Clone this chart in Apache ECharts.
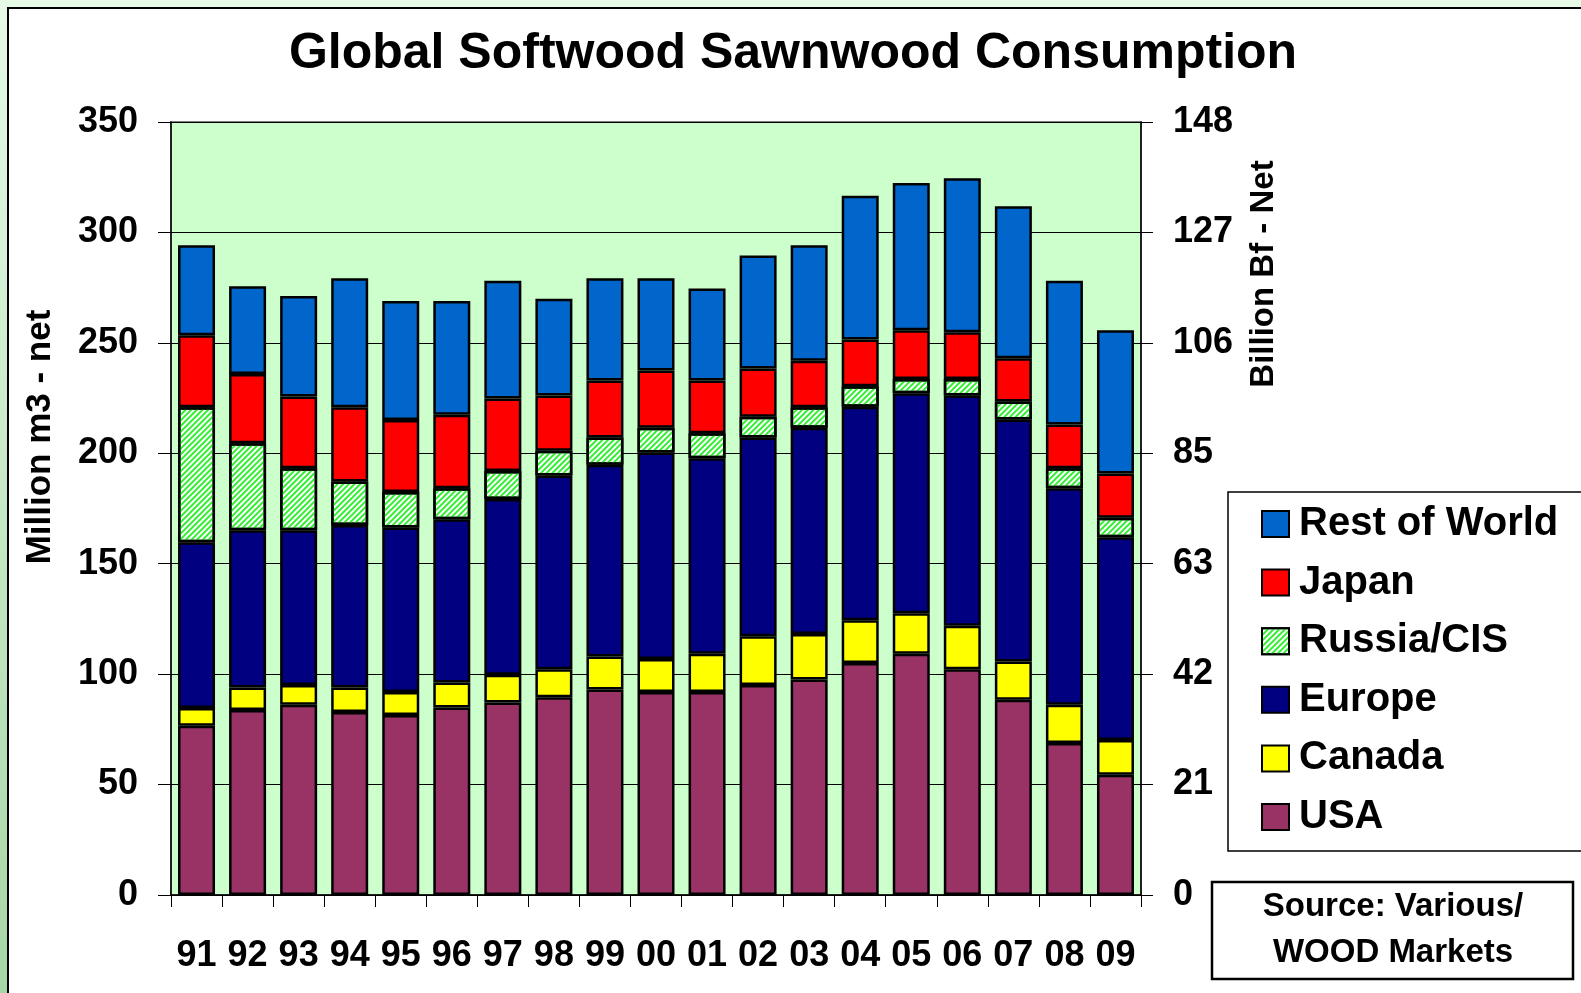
<!DOCTYPE html>
<html>
<head>
<meta charset="utf-8">
<title>Global Softwood Sawnwood Consumption</title>
<script src="https://cdn.jsdelivr.net/npm/echarts@6/dist/echarts.min.js"></script>
<style>
  html, body { margin: 0; padding: 0; background: #ffffff; }
  #chart { width: 1581px; height: 993px; }
</style>
</head>
<body>
<div id="chart"></div>
<script>
// years (19xx / 20xx)
const years = ["91", "92", "93", "94", "95", "96", "97", "98", "99", "00",
  "01", "02", "03", "04", "05", "06", "07", "08", "09"];

// million m3 - net
const usa = [76.6, 83.8, 86.1, 82.9, 81.5, 84.9, 87.2, 89.5, 93.0, 91.9,
  91.9, 95.1, 97.6, 105.0, 109.2, 102.2, 88.4, 68.8, 54.5];
const canada = [8.1, 10.1, 9.0, 11.0, 10.4, 11.3, 12.5, 12.7, 15.0, 15.0,
  17.3, 22.1, 20.6, 19.4, 18.4, 19.7, 17.3, 17.3, 15.7];
const europe = [75.0, 71.3, 70.1, 73.6, 74.5, 73.9, 79.6, 87.7, 86.8, 93.4,
  88.6, 90.0, 93.4, 96.7, 99.6, 104.3, 109.6, 98.1, 91.8];
const russia = [61.2, 39.3, 28.0, 19.7, 16.1, 14.1, 12.7, 11.3, 12.4, 11.3,
  11.3, 9.3, 9.3, 9.2, 6.4, 7.4, 8.1, 9.0, 8.8];
const japan = [32.5, 31.4, 32.5, 33.7, 32.6, 33.2, 32.8, 25.0, 25.7, 25.9,
  23.8, 21.9, 21.0, 21.2, 22.1, 21.2, 19.6, 19.8, 20.1];
const restOfWorld = [40.8, 39.7, 45.5, 58.3, 53.8, 51.5, 53.3, 43.8, 46.3, 41.7,
  41.7, 51.2, 52.3, 65.1, 66.7, 69.7, 68.8, 65.1, 64.8];

// axis scales
const leftMax = 350;
const leftStep = 50;
const rightMax = 148; // billion board feet
const rightSteps = 7;

const FONT = "'Liberation Sans', Arial, sans-serif";

const myChart = echarts.init(document.getElementById("chart"), null, { renderer: "canvas" });

function bar(name, data, color, extra) {
  return Object.assign({
    name: name,
    type: "bar",
    stack: "total",
    barWidth: 37,
    data: data,
    itemStyle: { color: color, borderColor: "#000000", borderWidth: 2.5 }
  }, extra || {});
}

const series = [
  bar("USA", usa, "#993366"),
  bar("Canada", canada, "#ffff00"),
  bar("Europe", europe, "#000080"),
  {
    name: "Russia/CIS",
    type: "bar",
    stack: "total",
    barWidth: 37,
    data: russia,
    itemStyle: {
      color: "#ffffff",
      borderColor: "#000000",
      borderWidth: 2.5,
      decal: {
        symbol: "rect",
        color: "#33ee33",
        dashArrayX: [1, 0],
        dashArrayY: [2, 2],
        rotation: -Math.PI / 4
      }
    }
  },
  bar("Japan", japan, "#ff0000"),
  bar("Rest of World", restOfWorld, "#0066cc")
];

const option = {
  animation: false,
  backgroundColor: "#ffffff",
  title: {
    text: "Global Softwood Sawnwood Consumption",
    left: 788,
    textAlign: "center",
    top: 24,
    textStyle: { fontFamily: FONT, fontWeight: "bold", fontSize: 50, color: "#000000" }
  },
  graphic: [
    // outer green frame + white panel
    {
      type: "rect", z: -10, silent: true,
      shape: { x: 0, y: 0, width: 1581, height: 993 },
      style: {
        fill: new echarts.graphic.LinearGradient(0, 0, 0, 1, [
          { offset: 0, color: "#e6fae6" },
          { offset: 1, color: "#a6d6a6" }
        ])
      }
    },
    {
      type: "rect", z: -9, silent: true,
      shape: { x: 8, y: 8, width: 1590, height: 1000 },
      style: { fill: "#ffffff", stroke: "#000000", lineWidth: 2 }
    },
    // axis names
    {
      type: "text", silent: true,
      x: 40, y: 437, rotation: Math.PI / 2,
      style: {
        text: "Million m3 - net", fontFamily: FONT, fontWeight: "bold", fontSize: 35,
        fill: "#000000", align: "center", verticalAlign: "middle"
      }
    },
    {
      type: "text", silent: true,
      x: 1264, y: 274, rotation: Math.PI / 2,
      style: {
        text: "Billion Bf - Net", fontFamily: FONT, fontWeight: "bold", fontSize: 33,
        fill: "#000000", align: "center", verticalAlign: "middle"
      }
    },
    // legend box
    {
      type: "rect", silent: true, z: 0,
      shape: { x: 1228, y: 492, width: 400, height: 359 },
      style: { fill: "#ffffff", stroke: "#000000", lineWidth: 1.5 }
    },
    // source box
    {
      type: "rect", silent: true,
      shape: { x: 1212, y: 882, width: 361, height: 97 },
      style: { fill: "#ffffff", stroke: "#000000", lineWidth: 2.5 }
    },
    {
      type: "text", silent: true,
      x: 1393, y: 930,
      style: {
        text: "Source: Various/\nWOOD Markets", fontFamily: FONT, fontWeight: "bold",
        fontSize: 33, lineHeight: 46, fill: "#000000", align: "center", verticalAlign: "middle"
      }
    }
  ],
  legend: {
    orient: "vertical",
    left: 1261,
    top: 504,
    padding: 0,
    itemWidth: 27,
    itemHeight: 26,
    itemGap: 18.6,
    icon: "rect",
    data: ["Rest of World", "Japan", "Russia/CIS", "Europe", "Canada", "USA"],
    textStyle: {
      fontFamily: FONT, fontWeight: "bold", fontSize: 40, lineHeight: 40,
      color: "#000000", padding: [0, 0, 0, 5]
    }
  },
  grid: {
    left: 171,
    top: 122,
    right: 440,
    bottom: 98,
    show: true,
    backgroundColor: "#ccffcc",
    borderColor: "#808080",
    borderWidth: 2
  },
  xAxis: {
    type: "category",
    data: years,
    axisLine: { lineStyle: { color: "#000000", width: 1.5 } },
    axisTick: { show: true, length: 12, lineStyle: { color: "#000000" } },
    axisLabel: {
      interval: 0,
      hideOverlap: false,
      margin: 43,
      fontFamily: FONT,
      fontWeight: "bold",
      fontSize: 36,
      color: "#000000"
    }
  },
  yAxis: [
    {
      type: "value",
      min: 0,
      max: leftMax,
      interval: leftStep,
      axisLine: { show: true, lineStyle: { color: "#000000", width: 1.5 } },
      axisTick: { show: true, length: 13, lineStyle: { color: "#000000" } },
      splitLine: { show: true, lineStyle: { color: "#000000", width: 1 } },
      axisLabel: { margin: 33, fontFamily: FONT, fontWeight: "bold", fontSize: 36, color: "#000000" }
    },
    {
      type: "value",
      position: "right",
      min: 0,
      max: rightMax,
      interval: rightMax / rightSteps,
      axisLine: { show: true, lineStyle: { color: "#000000", width: 1.5 } },
      axisTick: { show: true, length: 12, lineStyle: { color: "#000000" } },
      splitLine: { show: false },
      axisLabel: {
        margin: 32,
        fontFamily: FONT,
        fontWeight: "bold",
        fontSize: 36,
        color: "#000000",
        formatter: function (v) { return String(Math.round(v)); }
      }
    }
  ],
  series: series
};

myChart.setOption(option);
</script>
</body>
</html>
